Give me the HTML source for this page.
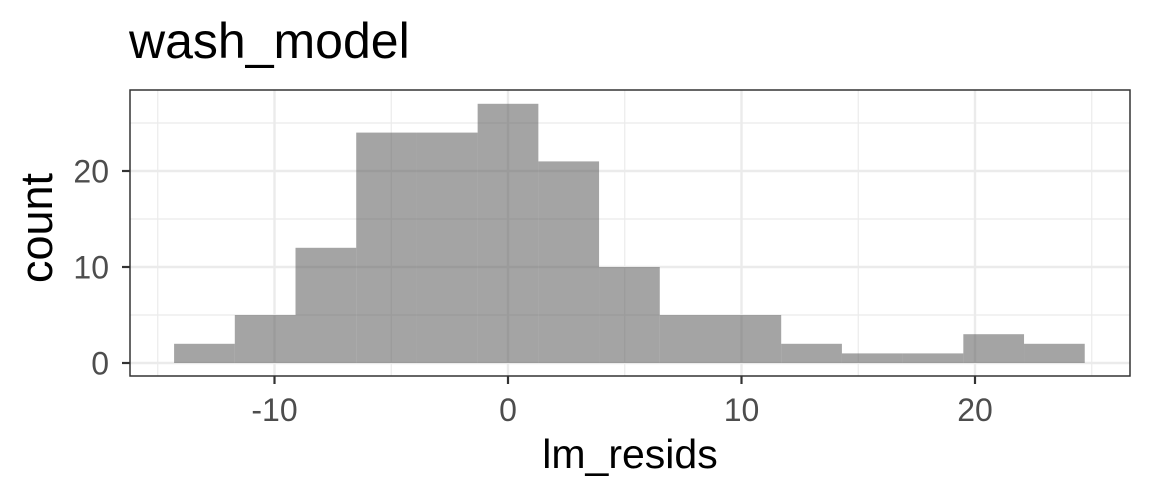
<!DOCTYPE html>
<html><head><meta charset="utf-8"><style>
body{margin:0;background:#fff;}
svg{display:block;font-family:"Liberation Sans",Arial,sans-serif;}
</style></head><body>
<svg id="chart" width="1152" height="499">
<text x="129" y="58" font-size="50" fill="#000">wash_model</text>
<rect x="130" y="90" width="1000" height="286" fill="#fff"/>
<g id="grid"></g>
<g id="bars"></g>
<rect x="130" y="90" width="1000" height="286" fill="none" stroke="#333" stroke-width="1.5"/>
<g id="axes"></g>
<text x="630" y="468" font-size="41" text-anchor="middle" fill="#000">lm_resids</text>
<text transform="translate(52,228) rotate(-90)" font-size="45" text-anchor="middle" fill="#000">count</text>
</svg>
<script>
const binStart = -14.3;
const binWidth = 2.6;
const counts = [2,5,12,24,24,27,21,10,5,5,2,1,1,3,2];
const xTicks = [-10,0,10,20];
const xMinor = [-15,-5,5,15,25];
const yTicks = [0,10,20];
const yMinor = [5,15,25];
const NS="http://www.w3.org/2000/svg";
function xs(v){return 508+v*23.35;}
function ys(v){return 363-v*9.6;}
function mk(t,a,p){const e=document.createElementNS(NS,t);for(const k in a)e.setAttribute(k,a[k]);p.appendChild(e);return e;}
const grid=document.getElementById('grid'),bars=document.getElementById('bars'),axes=document.getElementById('axes');
xMinor.forEach(v=>{const l=mk('line',{x1:xs(v),x2:xs(v),y1:90,y2:376,stroke:'#ebebeb','stroke-width':1.2},grid);

});
yMinor.forEach(v=>{const l=mk('line',{x1:130,x2:1130,y1:ys(v),y2:ys(v),stroke:'#ebebeb','stroke-width':1.2},grid);

});
xTicks.forEach(v=>{const l=mk('line',{x1:xs(v),x2:xs(v),y1:90,y2:376,stroke:'#ebebeb','stroke-width':2.4},grid);


const t=mk('line',{x1:xs(v),x2:xs(v),y1:376,y2:384,stroke:'#333','stroke-width':2.2},axes);


const tx=mk('text',{x:xs(v),y:421,'font-size':32,'text-anchor':'middle',fill:'#4d4d4d'},axes);tx.textContent=v;

});
yTicks.forEach(v=>{const l=mk('line',{x1:130,x2:1130,y1:ys(v),y2:ys(v),stroke:'#ebebeb','stroke-width':2.4},grid);


const t=mk('line',{x1:122,x2:130,y1:ys(v),y2:ys(v),stroke:'#333','stroke-width':2.2},axes);


const tx=mk('text',{x:109,y:ys(v)+11.5,'font-size':32,'text-anchor':'end',fill:'#4d4d4d'},axes);tx.textContent=v;

});
counts.forEach((c,i)=>{const x0=xs(binStart+i*binWidth),x1=xs(binStart+(i+1)*binWidth);
const r=mk('rect',{x:x0,y:ys(c),width:x1-x0,height:ys(0)-ys(c),fill:'#595959','fill-opacity':0.55},bars);

});
</script>
</body></html>
